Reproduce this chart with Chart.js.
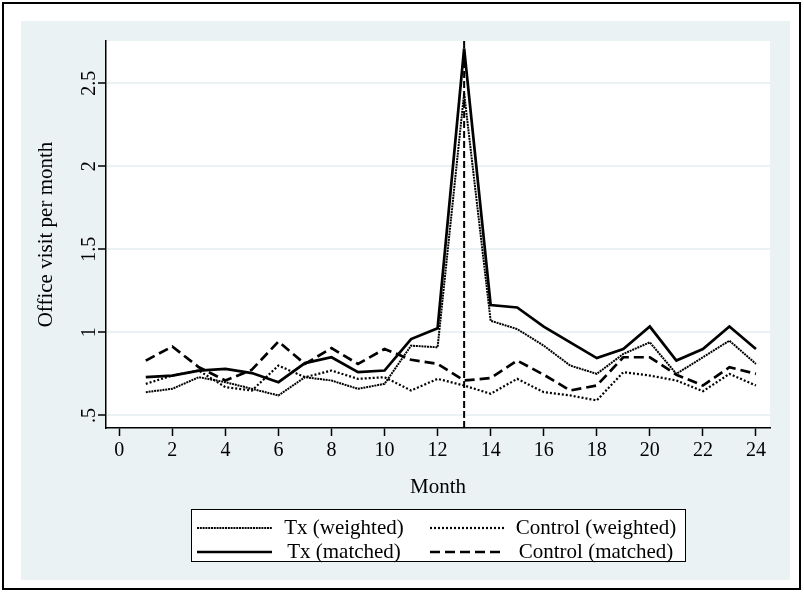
<!DOCTYPE html>
<html>
<head>
<meta charset="utf-8">
<script src="https://cdn.jsdelivr.net/npm/chart.js@4.4.1/dist/chart.umd.min.js"></script>
<style>
  html, body { margin: 0; padding: 0; background: #fff; }
  #wrap { width: 804px; height: 593px; }
</style>
</head>
<body>
<div id="wrap"><canvas id="myChart" width="804" height="593"></canvas></div>
<script>
var months = [1,2,3,4,5,6,7,8,9,10,11,12,13,14,15,16,17,18,19,20,21,22,23,24]
var txWeighted = [0.64,0.66,0.73,0.70,0.66,0.62,0.73,0.71,0.66,0.69,0.92,0.91,2.44,1.07,1.02,0.92,0.80,0.75,0.87,0.94,0.75,0.85,0.95,0.81]
var ctrlWeighted = [0.69,0.74,0.77,0.67,0.65,0.80,0.73,0.77,0.72,0.73,0.65,0.72,0.68,0.63,0.72,0.64,0.62,0.59,0.76,0.74,0.71,0.645,0.75,0.68]
var txMatched = [0.73,0.74,0.77,0.78,0.755,0.70,0.815,0.85,0.76,0.77,0.96,1.025,2.71,1.165,1.15,1.035,0.94,0.845,0.90,1.035,0.83,0.90,1.035,0.90]
var ctrlMatched = [0.83,0.915,0.79,0.71,0.775,0.945,0.81,0.905,0.81,0.90,0.835,0.81,0.71,0.725,0.83,0.745,0.65,0.68,0.85,0.85,0.745,0.68,0.79,0.75]
var seriesNames = ["Tx (weighted)", "Control (weighted)", "Tx (matched)", "Control (matched)"]
var xTicks = [0,2,4,6,8,10,12,14,16,18,20,22,24]
var yTicks = [0.5,1,1.5,2,2.5]
var yTickLabels = [".5","1","1.5","2","2.5"]
var refMonth = 13

Chart.defaults.font.family = "'Liberation Serif', 'Times New Roman', serif"
Chart.defaults.font.size = 20
Chart.defaults.color = "#000"

function pts(vals){
    return months.map(function(m,i){ return {x:m, y:vals[i]} })
}

// page frame + light background + white plot region
var frame = {
    id: 'frame',
    beforeDraw: function(chart){
        var c = chart.ctx, a = chart.chartArea
        c.save()
        c.fillStyle = '#fff'
        c.fillRect(0,0,chart.width,chart.height)
        c.fillStyle = '#eaf2f3'
        c.fillRect(21,21,769,559)
        c.strokeStyle = '#000'
        c.lineWidth = 2
        c.strokeRect(3,3,797,586)
        c.fillStyle = '#fff'
        c.fillRect(a.left,a.top,a.right-a.left,a.bottom-a.top)
        c.restore()
    }
}

// vertical dashed line at the reference month
var refLine = {
    id: 'refLine',
    afterDatasetsDraw: function(chart){
        var c = chart.ctx, a = chart.chartArea
        var x = chart.scales.x.getPixelForValue(refMonth)
        c.save()
        c.strokeStyle = '#000'
        c.lineWidth = 2
        c.setLineDash([7,3])
        c.beginPath()
        c.moveTo(x,a.bottom)
        c.lineTo(x,a.top)
        c.stroke()
        c.restore()
    }
}

// stata style boxed legend, 2 columns
var boxLegend = {
    id: 'boxLegend',
    afterDraw: function(chart){
        var c = chart.ctx
        var bx = 191, by = 509, bw = 494, bh = 52
        var cols = [{x0:197,x1:272,tx:344}, {x0:430,x1:505,tx:596}]
        var rows = [528,552]
        c.save()
        c.fillStyle = '#fff'
        c.fillRect(bx,by,bw,bh)
        c.strokeStyle = '#000'
        c.lineWidth = 1
        c.strokeRect(bx+0.5,by+0.5,bw,bh)
        chart.data.datasets.forEach(function(ds,i){
            var col = cols[i%2], y = rows[Math.floor(i/2)]
            c.strokeStyle = ds.borderColor
            c.lineWidth = ds.borderWidth
            c.setLineDash(ds.borderDash || [])
            c.beginPath()
            c.moveTo(col.x0,y)
            c.lineTo(col.x1,y)
            c.stroke()
            c.setLineDash([])
            c.fillStyle = '#000'
            c.font = "21px 'Liberation Serif', serif"
            c.textAlign = 'center'
            c.textBaseline = 'middle'
            c.fillText(ds.label,col.tx,y)
        })
        c.restore()
    }
}

var ctx = document.getElementById("myChart").getContext('2d')
var chart = new Chart(ctx, {
    type: 'line',
    data: {
        datasets: [
            { label: seriesNames[0], data: pts(txWeighted), borderColor: '#000', borderWidth: 2, borderDash: [2,0.8] },
            { label: seriesNames[1], data: pts(ctrlWeighted), borderColor: '#000', borderWidth: 2.2, borderDash: [2,2] },
            { label: seriesNames[2], data: pts(txMatched), borderColor: '#000', borderWidth: 2.7 },
            { label: seriesNames[3], data: pts(ctrlMatched), borderColor: '#000', borderWidth: 2.7, borderDash: [10,5] }
        ]
    },
    options: {
        responsive: false,
        animation: false,
        devicePixelRatio: 1,
        layout: { padding: { left: 21, right: 34, top: 41, bottom: 93 } },
        elements: { point: { radius: 0 }, line: { tension: 0, fill: false } },
        plugins: { legend: { display: false }, tooltip: { enabled: false } },
        scales: {
            x: {
                type: 'linear',
                min: -0.5,
                max: 24.53,
                afterBuildTicks: function(s){ s.ticks = xTicks.map(function(v){ return {value:v} }) },
                afterFit: function(s){ s.height = 72 },
                ticks: { autoSkip: false, maxRotation: 0, padding: 3, font: { size: 20 } },
                grid: { drawOnChartArea: false, tickLength: 8, tickColor: '#000', tickWidth: 1.5 },
                border: { color: '#000', width: 1.5 },
                title: { display: true, text: 'Month', font: { size: 21 }, padding: 0 }
            },
            y: {
                min: 0.424,
                max: 2.755,
                afterBuildTicks: function(s){ s.ticks = yTicks.map(function(v){ return {value:v} }) },
                afterFit: function(s){ s.width = 85 },
                ticks: {
                    minRotation: 90, maxRotation: 90, crossAlign: 'center', padding: -4,
                    font: { size: 20 },
                    callback: function(v,i){ return yTickLabels[i] }
                },
                grid: { color: '#eaf2f3', lineWidth: 2, tickLength: 8, tickColor: '#000', tickWidth: 1.5 },
                border: { color: '#000', width: 1.5 },
                title: { display: true, text: 'Office visit per month', font: { size: 21 }, padding: { top: 13, bottom: 0 } }
            }
        }
    },
    plugins: [frame, refLine, boxLegend]
})
</script>
</body>
</html>
